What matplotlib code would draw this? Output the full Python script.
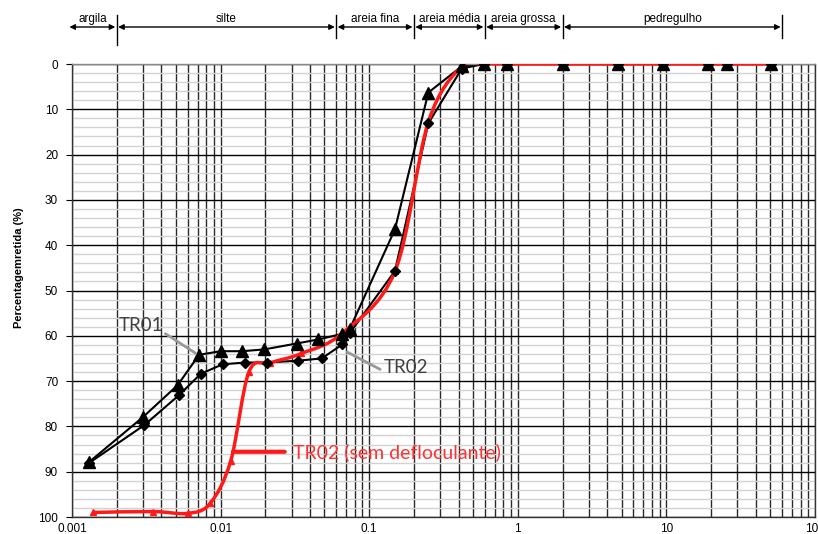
import numpy as np
import matplotlib
matplotlib.use("Agg")
import matplotlib.pyplot as plt
from matplotlib.path import Path
from matplotlib.patches import PathPatch
from matplotlib.transforms import blended_transform_factory
from matplotlib.ticker import FixedLocator, NullFormatter

# ---------------- data ----------------
tr01_d = [50.8, 25.4, 19.1, 9.52, 4.76, 2.0, 0.84, 0.59, 0.42, 0.25, 0.149, 0.074,
          0.0653, 0.0455, 0.0325, 0.0197, 0.014, 0.010, 0.00716, 0.00514, 0.00299, 0.0013]
tr01_p = [0, 0, 0, 0, 0, 0, 0, 0, 0.5, 6.3, 36.5, 58.5,
          59.6, 60.8, 61.7, 63.0, 63.4, 63.4, 64.2, 70.9, 78.0, 87.9]

tr02_d = [50.8, 25.4, 19.1, 9.52, 4.76, 2.0, 0.84, 0.59, 0.42, 0.25, 0.149, 0.074,
          0.066, 0.0479, 0.033, 0.0204, 0.0146, 0.0103, 0.00735, 0.00525, 0.00307, 0.0013]
tr02_p = [0, 0, 0, 0, 0, 0, 0, 0, 1.0, 13.1, 45.7, 59.4,
          61.9, 65.0, 65.5, 65.9, 65.9, 66.3, 68.4, 73.1, 79.7, 88.1]

sem_d = [50.8, 25.4, 19.1, 9.52, 4.76, 2.0, 0.84, 0.59, 0.42, 0.25, 0.149, 0.066,
         0.035, 0.0215, 0.0155, 0.0117, 0.0085, 0.006, 0.00352, 0.00139]
sem_p = [0, 0, 0, 0, 0, 0, 0, 0, 0.5, 12.8, 45.8, 59.4,
         63.9, 66.0, 68.0, 87.6, 97.0, 99.2, 98.8, 99.0]

class_names = ["argila", "silte", "areia fina", "areia média", "areia grossa", "pedregulho"]
class_bounds = [0.00094, 0.002, 0.06, 0.2, 0.6, 2.0, 60.0]

x_ticks = [0.001, 0.01, 0.1, 1, 10, 100]
x_ticklabels = ["0.001", "0.01", "0.1", "1", "10", "100"]
y_ticks = list(range(0, 101, 10))

# ---------------- figure ----------------
W, H = 818, 534
fig = plt.figure(figsize=(W / 100, H / 100), dpi=100)
ax = fig.add_axes([72 / W, 1 - 517 / H, (815 - 72) / W, (517 - 64) / H])

ax.set_xscale("log")
ax.set_xlim(0.001, 100)
ax.set_ylim(100, 0)

# grid
ax.xaxis.set_major_locator(FixedLocator(x_ticks))
minors = [m * 10.0 ** e for e in range(-3, 2) for m in range(2, 10)]
ax.xaxis.set_minor_locator(FixedLocator(minors))
ax.xaxis.set_minor_formatter(NullFormatter())
ax.set_yticks(y_ticks)
ax.set_yticks(list(range(0, 101, 2)), minor=True)
ax.grid(True, which="minor", axis="y", color="#d2d2d2", lw=1.0, zorder=0)
ax.grid(True, which="major", axis="y", color="#000000", lw=1.0, zorder=0.5)
ax.grid(True, which="both", axis="x", color="#2a2a2a", lw=1.0, zorder=0.6)
ax.set_axisbelow(True)

ax.set_xticklabels(x_ticklabels)
ax.tick_params(axis="x", which="both", length=0, pad=4, labelsize=8.5)
ax.tick_params(axis="y", which="major", length=4, direction="out", pad=6, labelsize=8.5)
ax.tick_params(axis="y", which="minor", length=0)
for lab in ax.get_xticklabels() + ax.get_yticklabels():
    lab.set_fontfamily("Liberation Sans")
for s in ax.spines.values():
    s.set_color("#333333")
    s.set_linewidth(1.0)
ax.spines["top"].set_color("#888888")

ax.set_ylabel("Percentagemretida (%)", fontsize=8, fontweight="bold",
              family="Liberation Sans")
ax.yaxis.set_label_coords(-0.065, 0.55)

# black series
ax.plot(tr01_d, tr01_p, color="black", lw=1.5, zorder=2)
ax.plot(tr01_d, tr01_p, ls="none", marker="^", ms=8, color="black", zorder=5)
ax.plot(tr02_d, tr02_p, color="black", lw=1.5, zorder=2)
ax.plot(tr02_d, tr02_p, ls="none", marker="D", ms=5.5, color="black", zorder=5)

# red smoothed series (bezier through points, in log-x space)
lx = np.log10(np.array(sem_d, dtype=float))
ly = np.array(sem_p, dtype=float)
n = len(lx)
verts = [(lx[0], ly[0])]
codes = [Path.MOVETO]
for i in range(n - 1):
    p0 = np.array([lx[max(i - 1, 0)], ly[max(i - 1, 0)]])
    p1 = np.array([lx[i], ly[i]])
    p2 = np.array([lx[i + 1], ly[i + 1]])
    p3 = np.array([lx[min(i + 2, n - 1)], ly[min(i + 2, n - 1)]])
    c1 = p1 + (p2 - p0) / 6.0
    c2 = p2 - (p3 - p1) / 6.0
    verts += [tuple(c1), tuple(c2), tuple(p2)]
    codes += [Path.CURVE4] * 3
verts = [(10 ** a, b) for a, b in verts]
ax.add_patch(PathPatch(Path(verts, codes), fill=False, edgecolor="#ff1a1a", lw=2.5, zorder=3))
ax.plot(sem_d, sem_p, ls="none", marker="^", ms=5, color="#ff1a1a", zorder=3.5)

# annotations
ax.annotate("", xy=(0.00705, 64.2), xytext=(0.0041, 59.2),
            arrowprops=dict(arrowstyle="-", color="#999999", lw=2), zorder=6)
ax.text(0.00205, 58.9, "TR01", fontsize=13.5, family="Lato", color="#404040",
        ha="left", va="baseline", zorder=6)
ax.annotate("", xy=(0.0685, 63.3), xytext=(0.123, 67.7),
            arrowprops=dict(arrowstyle="-", color="#999999", lw=2), zorder=6)
ax.text(0.125, 67.0, "TR02", fontsize=13.5, family="Lato", color="#404040",
        ha="left", va="center", zorder=6)
ax.annotate("", xy=(0.0116, 85.6), xytext=(0.0282, 85.6),
            arrowprops=dict(arrowstyle="-", color="#ff1a1a", lw=3), zorder=6)
ax.text(0.0305, 85.6, "TR02 (sem defloculante)", fontsize=14, family="Lato",
        color="#ff3333", ha="left", va="center", zorder=6)

# classification band above the plot
bt = blended_transform_factory(ax.transData, fig.transFigure)
y_arrow = 1 - 27 / H
y_text = 1 - 19 / H
for i, name in enumerate(class_names):
    a, b = class_bounds[i], class_bounds[i + 1]
    ax.annotate("", xy=(b, y_arrow), xytext=(a, y_arrow), xycoords=bt, textcoords=bt,
                arrowprops=dict(arrowstyle="<|-|>", color="black", lw=1,
                                mutation_scale=8, shrinkA=1, shrinkB=1),
                annotation_clip=False)
    xm = 10 ** ((np.log10(a) + np.log10(b)) / 2)
    ax.text(xm, y_text, name, transform=bt, ha="center", va="center",
            fontsize=8.5, family="Liberation Sans", clip_on=False)
for bnd in class_bounds[1:]:
    top = 1 - 15 / H
    bot = 1 - (45 if bnd == 0.002 else 38) / H
    ax.plot([bnd, bnd], [bot, top], transform=bt, color="black", lw=1, clip_on=False)

fig.savefig("out.png", dpi=100)
